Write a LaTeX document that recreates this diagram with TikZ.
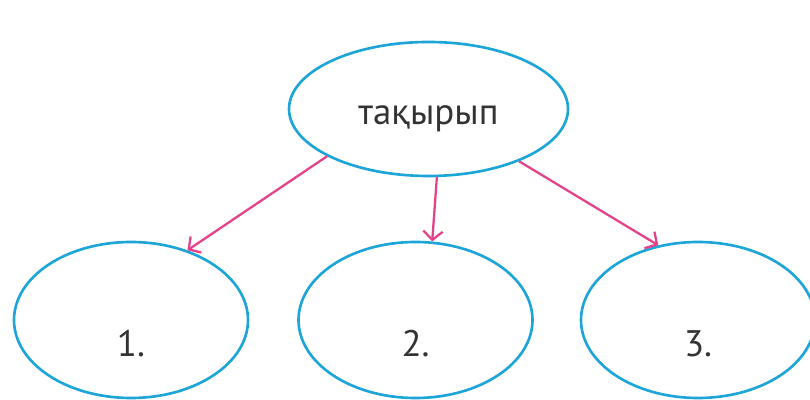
\documentclass[tikz,border=0pt]{standalone}
\usepackage{fontspec}
\setmainfont{PT Sans}
\usetikzlibrary{arrows.meta,shapes.geometric}
\definecolor{ringblue}{HTML}{1DA5D8}
\definecolor{arrowpink}{HTML}{E4428A}
\definecolor{textgrey}{HTML}{333333}
\begin{document}
\begin{tikzpicture}[
    every node/.style={align=center, text=textgrey, font=\fontsize{21}{24}\selectfont},
    topic ring/.style={draw=ringblue, line width=1.5pt, ellipse, inner sep=0pt,
        minimum width=5.58cm, minimum height=2.68cm, text height=18.2pt, text depth=0pt},
    point ring/.style={draw=ringblue, line width=1.5pt, ellipse, inner sep=0pt,
        minimum width=4.68cm, minimum height=3.12cm, text height=42pt, text depth=0pt},
    pink arrow/.style={draw=arrowpink, line width=1.3pt, -{Straight Barb[length=5pt,width=11pt]}},
    ]
\useasboundingbox (0,0) rectangle (16.2,8);
\node[topic ring] (topic) at (8.570000,5.820000) {тақырып};
\node[point ring] (one) at (2.620000,1.600000) {1.};
\node[point ring] (two) at (8.310000,1.600000) {2.};
\node[point ring] (three) at (13.960000,1.600000) {3.};
\draw[pink arrow] (topic.205) -- (one.51);
\draw[pink arrow] (topic.277) -- (two.78);
\draw[pink arrow] (topic.330) -- (three.118);
\end{tikzpicture}
\end{document}
